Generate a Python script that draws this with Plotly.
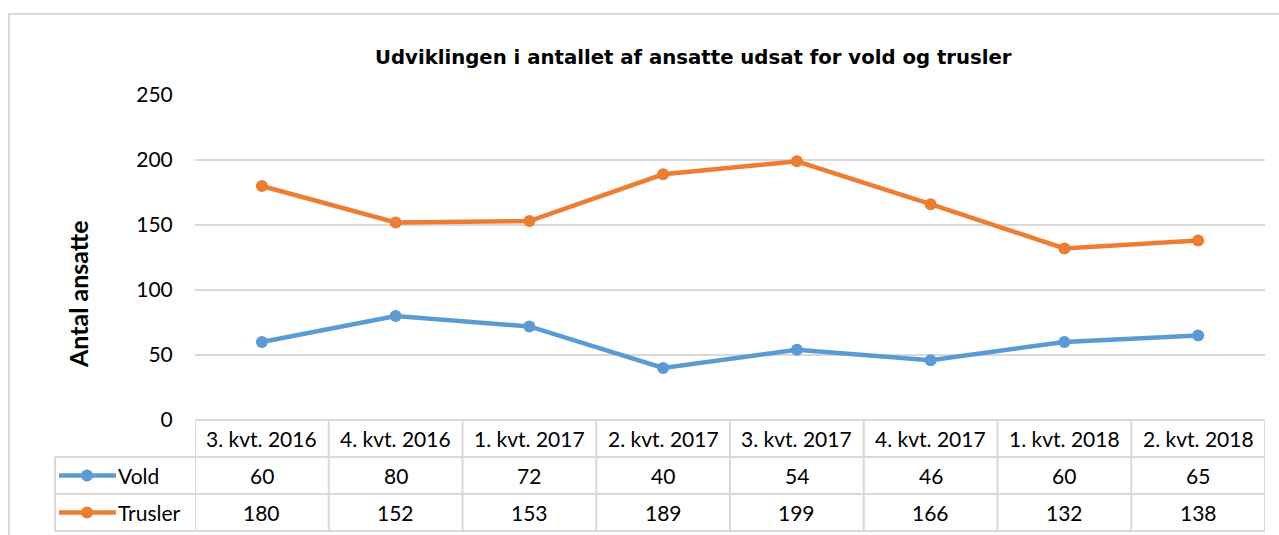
import plotly.graph_objects as go

categories = ["3. kvt. 2016", "4. kvt. 2016", "1. kvt. 2017", "2. kvt. 2017",
              "3. kvt. 2017", "4. kvt. 2017", "1. kvt. 2018", "2. kvt. 2018"]
vold = [60, 80, 72, 40, 54, 46, 60, 65]
trusler = [180, 152, 153, 189, 199, 166, 132, 138]
series_names = ["Vold", "Trusler"]
series_values = [vold, trusler]
colors = ["#5B9BD5", "#ED7D31"]
y_ticks = [0, 50, 100, 150, 200, 250]

W, H = 1279, 535
L, R, T, B = 195, 14, 95, 115
plot_h = H - T - B
grid_col = "#D9D9D9"
font_fam = "Lato, Carlito, Calibri, sans-serif"

def py(pix):
    # pixel row -> paper y
    return (H - B - pix) / plot_h

def px(pix):
    return (pix - L) / (W - L - R)

fig = go.Figure()
for name, vals, c in zip(series_names, series_values, colors):
    fig.add_trace(go.Scatter(
        x=list(range(len(categories))), y=vals, mode="lines+markers", name=name,
        line=dict(color=c, width=4.5), marker=dict(color=c, size=12),
        showlegend=False, cliponaxis=False))

shapes = []
annotations = []
row_lines = [420, 457, 494, 531]
n = len(categories)
# horizontal table lines
for i, r in enumerate(row_lines):
    shapes.append(dict(type="line", xref="paper", yref="paper",
                       x0=0 if i == 0 else px(55), x1=1, y0=py(r), y1=py(r),
                       line=dict(color=grid_col, width=2)))
# vertical lines
for k in range(n + 1):
    shapes.append(dict(type="line", xref="x", yref="paper",
                       x0=k - 0.5, x1=k - 0.5, y0=py(420), y1=py(531),
                       line=dict(color=grid_col, width=2)))
shapes.append(dict(type="line", xref="paper", yref="paper",
                   x0=px(55), x1=px(55), y0=py(457), y1=py(531),
                   line=dict(color=grid_col, width=2)))
# chart border
shapes.append(dict(type="line", xref="paper", yref="paper",
                   x0=px(8), x1=px(1290), y0=py(14), y1=py(14),
                   line=dict(color=grid_col, width=2)))
shapes.append(dict(type="line", xref="paper", yref="paper",
                   x0=px(9), x1=px(9), y0=py(14), y1=py(540),
                   line=dict(color=grid_col, width=2)))

tf = dict(family=font_fam, size=21, color="#000000")
for k, cat in enumerate(categories):
    annotations.append(dict(x=k, y=py(438.5), xref="x", yref="paper", text=cat,
                            showarrow=False, font=tf, xanchor="center", yanchor="middle"))
row_centers = [475.5, 512.5]
for name, vals, c, rc in zip(series_names, series_values, colors, row_centers):
    for k, v in enumerate(vals):
        annotations.append(dict(x=k, y=py(rc), xref="x", yref="paper", text=str(v),
                                showarrow=False, font=tf, xanchor="center", yanchor="middle"))
    # legend key
    shapes.append(dict(type="line", xref="paper", yref="paper",
                       x0=px(59), x1=px(116), y0=py(rc), y1=py(rc),
                       line=dict(color=c, width=4.5)))
    shapes.append(dict(type="circle", xref="paper", yref="paper",
                       x0=px(81), x1=px(93), y0=py(rc - 6), y1=py(rc + 6),
                       fillcolor=c, line=dict(color=c, width=0)))
    annotations.append(dict(x=px(116), y=py(rc), xref="paper", yref="paper", text=name,
                            showarrow=False, font=tf, xanchor="left", yanchor="middle"))

annotations.append(dict(x=px(693), y=py(58), xref="paper", yref="paper",
                        text="<b>Udviklingen i antallet af ansatte udsat for vold og trusler</b>",
                        showarrow=False, xanchor="center", yanchor="middle",
                        font=dict(family="DejaVu Sans", size=19.7, color="#000000")))
annotations.append(dict(x=px(78), y=py(294), xref="paper", yref="paper",
                        text="<b>Antal ansatte</b>", textangle=-90,
                        showarrow=False, xanchor="center", yanchor="middle",
                        font=dict(family=font_fam, size=25, color="#000000")))

fig.update_layout(
    width=W, height=H,
    margin=dict(l=L, r=R, t=T, b=B),
    paper_bgcolor="white", plot_bgcolor="white",
    shapes=shapes, annotations=annotations,
    xaxis=dict(range=[-0.5, n - 0.5], showticklabels=False, showgrid=False,
               zeroline=False, showline=False, ticks="", fixedrange=True),
    yaxis=dict(range=[0, 250], tickvals=y_ticks, showgrid=True, gridcolor=grid_col,
               gridwidth=2, zeroline=False, showline=False, ticks="outside",
               ticklen=17, tickcolor="rgba(0,0,0,0)",
               tickfont=dict(family=font_fam, size=21, color="#000000")),
)
fig.write_html("out.html", config={"displayModeBar": False},
               post_script="document.body.style.margin='0';document.body.style.overflow='hidden';")
